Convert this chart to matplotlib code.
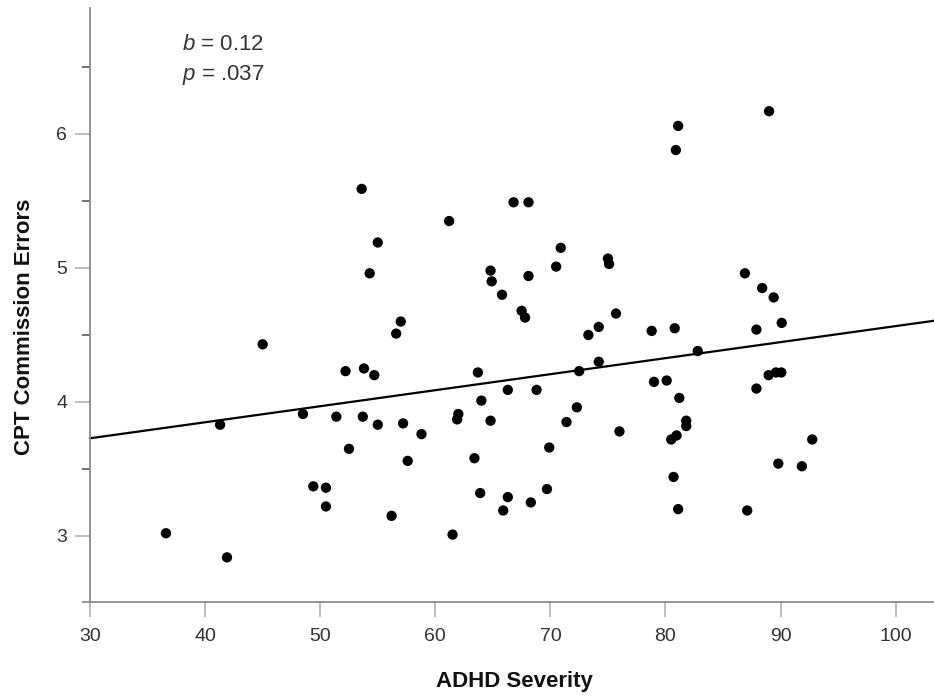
import matplotlib
matplotlib.use("Agg")
import matplotlib.pyplot as plt
from matplotlib.ticker import MultipleLocator

plt.rcParams['font.family'] = ['Liberation Sans', 'DejaVu Sans']
plt.rcParams['mathtext.fontset'] = 'custom'
plt.rcParams['mathtext.it'] = 'Liberation Sans:italic'
plt.rcParams['mathtext.rm'] = 'Liberation Sans'

adhd_severity = [
    36.6, 41.9, 41.3, 45.0, 48.5, 49.4, 50.5, 50.5, 51.4, 52.2,
    52.5, 53.6, 53.8, 53.7, 54.3, 54.7, 55.0, 55.0, 56.2, 56.6,
    57.0, 57.2, 57.6, 58.8, 61.2, 61.5, 61.9, 62.0, 63.4, 63.7,
    64.0, 63.9, 64.8, 64.9, 64.8, 65.8, 65.9, 66.3, 66.3, 66.8,
    67.5, 67.8, 68.1, 68.1, 68.8, 68.3, 69.7, 69.9, 70.5, 70.9,
    71.4, 72.3, 72.5, 73.3, 74.2, 74.2, 75.0, 75.1, 75.7, 76.0,
    78.8, 79.0, 80.1, 80.5, 80.7, 80.8, 80.9, 81.1, 80.96, 81.1,
    81.2, 81.8, 81.8, 82.8, 86.9, 87.1, 87.9, 87.9, 88.4, 88.96,
    89.0, 89.4, 89.6, 89.8, 90.1, 90.06, 91.85, 92.75,
]
cpt_errors = [
    3.02, 2.84, 3.83, 4.43, 3.91, 3.37, 3.36, 3.22, 3.89, 4.23,
    3.65, 5.59, 4.25, 3.89, 4.96, 4.20, 5.19, 3.83, 3.15, 4.51,
    4.60, 3.84, 3.56, 3.76, 5.35, 3.01, 3.87, 3.91, 3.58, 4.22,
    4.01, 3.32, 4.98, 4.90, 3.86, 4.80, 3.19, 4.09, 3.29, 5.49,
    4.68, 4.63, 5.49, 4.94, 4.09, 3.25, 3.35, 3.66, 5.01, 5.15,
    3.85, 3.96, 4.23, 4.50, 4.56, 4.30, 5.07, 5.03, 4.66, 3.78,
    4.53, 4.15, 4.16, 3.72, 3.44, 4.55, 5.88, 6.06, 3.75, 3.20,
    4.03, 3.86, 3.82, 4.38, 4.96, 3.19, 4.54, 4.10, 4.85, 4.20,
    6.17, 4.78, 4.22, 3.54, 4.59, 4.22, 3.52, 3.72,
]

fit_intercept = 3.370
fit_slope = 0.01196

x_ticks = [30, 40, 50, 60, 70, 80, 90, 100]
y_ticks = [3, 4, 5, 6]
stat_b = "0.12"
stat_p = ".037"

W, H = 934, 700
x_lo, x_hi = 29.39, 103.33
fig = plt.figure(figsize=(W / 100, H / 100), dpi=100)
ax = fig.add_axes([83 / W, 1 - 602 / H, (934 - 83) / W, (602 - 8) / H])

ax.scatter(adhd_severity, cpt_errors, s=55, color='black', edgecolors='none', zorder=3)
line_x = [x_ticks[0], x_hi]
line_y = [fit_intercept + fit_slope * v for v in line_x]
ax.plot(line_x, line_y, color='black', lw=1.6, zorder=2, clip_on=False)

ax.set_xlim(x_lo, x_hi)
ax.set_ylim(2.507, 6.94)

for s in ['top', 'right']:
    ax.spines[s].set_visible(False)
ax.spines['left'].set_position(('data', 30))
for s in ['left', 'bottom']:
    ax.spines[s].set_color('#8c8c8c')
    ax.spines[s].set_linewidth(1.3)

ax.set_xticks(x_ticks)
ax.set_yticks(y_ticks)
ax.yaxis.set_minor_locator(MultipleLocator(0.5))
ax.tick_params(axis='both', which='major', direction='out', length=10.5, width=1.3,
               color='#b8b8b8', labelsize=14, labelcolor='#333333')
ax.tick_params(axis='x', which='major', pad=8)
ax.tick_params(axis='y', which='major', pad=6)
ax.tick_params(axis='y', which='minor', direction='out', length=5.5, width=1.3, color='#666666')

fig.text(514 / W, 1 - 681 / H, "ADHD Severity", fontsize=16, fontweight='bold',
         ha='center', va='center', color='#111111')
fig.text(25 / W, 1 - 327 / H, "CPT Commission Errors", fontsize=16, fontweight='bold',
         ha='center', va='center', rotation=90, color='#111111')

ax.text((264 - 83) / 851, (602 - 45) / 594, r"$\mathit{b}$ = " + stat_b,
        transform=ax.transAxes, ha='right', va='center', fontsize=16, color='#333333')
ax.text((264 - 83) / 851, (602 - 75) / 594, r"$\mathit{p}$ = " + stat_p,
        transform=ax.transAxes, ha='right', va='center', fontsize=16, color='#333333')

fig.savefig("out.png", dpi=100)
